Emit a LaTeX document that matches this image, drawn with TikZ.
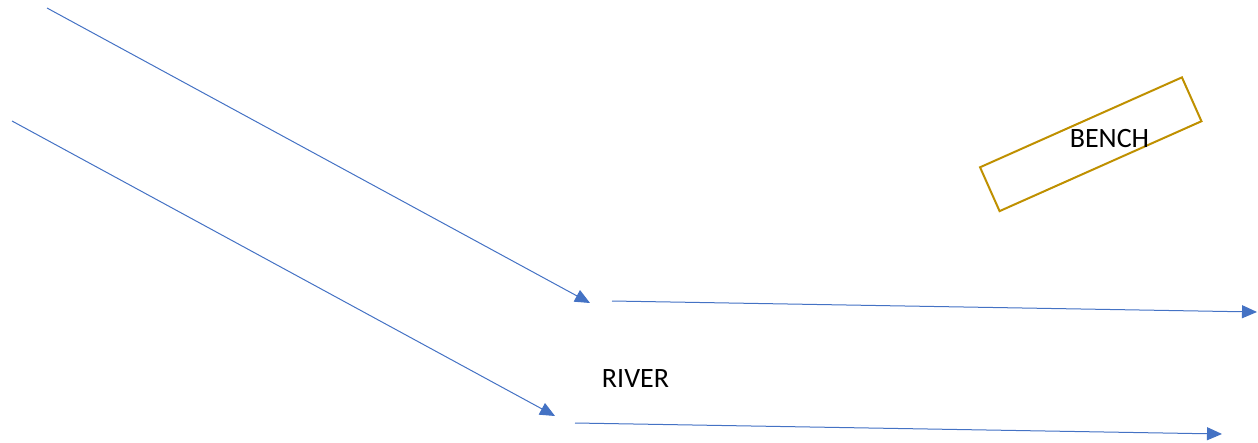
\documentclass[tikz,border=0pt]{standalone}
\usepackage{fontspec}
\setmainfont{Carlito}
\usetikzlibrary{arrows.meta}
\definecolor{flowblue}{HTML}{4472C4}
\definecolor{benchgold}{HTML}{BF9000}
\tikzset{
  flow/.style={draw=flowblue, line width=1pt, -{Triangle[length=15pt,width=13pt]}},
  benchbox/.style={draw=benchgold, line width=2pt, rotate=24, minimum width=221pt, minimum height=48pt, inner sep=0pt, rectangle},
  label/.style={font=\fontsize{28}{34}\selectfont, inner sep=0pt, anchor=base, text=black}
}
\begin{document}
\begin{tikzpicture}[x=1pt,y=-1pt]
\useasboundingbox (0,0) rectangle (1258,442);
\coordinate (a1s) at (47,8);
\coordinate (a1e) at (590,303);
\coordinate (a2s) at (12,121);
\coordinate (a2e) at (555,416);
\coordinate (a3s) at (612,301);
\coordinate (a3e) at (1257,312);
\coordinate (a4s) at (575,423);
\coordinate (a4e) at (1222,434);
\draw[flow] (a1s) -- (a1e);
\draw[flow] (a2s) -- (a2e);
\draw[flow] (a3s) -- (a3e);
\draw[flow] (a4s) -- (a4e);
\node[benchbox] (bench) at (1090.75,144.25) {};
\node[label] (benchtext) at (1109.5,147) {BENCH};
\node[label] (river) at (635.5,387) {RIVER};
\end{tikzpicture}
\end{document}
